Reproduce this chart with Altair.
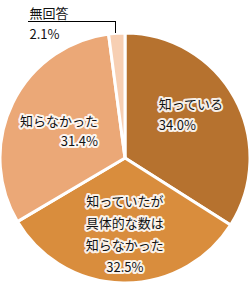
import altair as alt
import pandas as pd

categories = ["知っている", "知っていたが具体的な数は知らなかった", "知らなかった", "無回答"]
values = [34.0, 32.5, 31.4, 2.1]
label_lines = ["知っている", "知っていたが\n具体的な数は\n知らなかった", "知らなかった", "無回答"]
colors = ["#B6722F", "#D98D3D", "#EBA877", "#F7CFB3"]

df = pd.DataFrame({
    "idx": list(range(len(categories))),
    "category": categories,
    "value": values,
    "label": [f"{l}\n{v:.1f}%" for l, v in zip(label_lines, values)],
})

FONT = "Noto Sans CJK JP"
CX, CY = 125, 158
theta_scale = alt.Scale(domain=[0, 100])

base = alt.Chart(df)

pie = base.mark_arc(radius=125, stroke="white", strokeWidth=3).encode(
    theta=alt.Theta("value:Q", stack=True, scale=theta_scale),
    color=alt.Color("category:N", scale=alt.Scale(domain=categories, range=colors), legend=None),
    order=alt.Order("idx:Q"),
    x=alt.value(CX),
    y=alt.value(CY),
)


def label_layers(cat, align, r, dx, dy, lh=21, halo=True):
    src = base.transform_window(
        cum="sum(value)", sort=[alt.SortField("idx")], frame=[None, 0]
    ).transform_calculate(
        mid="datum.cum - datum.value / 2"
    ).transform_filter(alt.datum.category == cat)
    enc = dict(
        theta=alt.Theta("mid:Q", stack=False, scale=theta_scale),
        text=alt.Text("label:N"),
        x=alt.value(CX),
        y=alt.value(CY),
    )
    common = dict(align=align, baseline="middle", radius=r, dx=dx, dy=dy,
                  lineBreak="\n", lineHeight=lh, fontSize=13, font=FONT)
    layers = []
    if halo:
        layers.append(src.mark_text(color="white", stroke="white", strokeWidth=4,
                                    strokeJoin="round", strokeOpacity=0.9, **common).encode(**enc))
    layers.append(src.mark_text(color="#111111", **common).encode(**enc))
    return layers


leader_src = alt.Chart(pd.DataFrame({"k": [0]}))
leader_h = leader_src.mark_rule(color="black", strokeWidth=1).encode(
    x=alt.value(28), x2=alt.value(115.5), y=alt.value(21.5))
leader_v = leader_src.mark_rule(color="black", strokeWidth=1).encode(
    x=alt.value(115.5), y=alt.value(21), y2=alt.value(33))

layers = [pie]
layers += label_layers(categories[0], "left", 75, -32, -17)
layers += label_layers(categories[1], "center", 75, 1, -31, lh=22)
layers += label_layers(categories[2], "right", 75, 40.5, -3, lh=20)
layers += label_layers(categories[3], "left", 130, -87, -14, halo=False)
layers += [leader_h, leader_v]

chart = alt.layer(*layers).properties(
    width=250, height=282, padding=0,
    autosize=alt.AutoSizeParams(type="none"),
    background="white",
).configure_view(stroke=None)

chart.save("out.html", embed_options={"renderer": "svg", "actions": False})
